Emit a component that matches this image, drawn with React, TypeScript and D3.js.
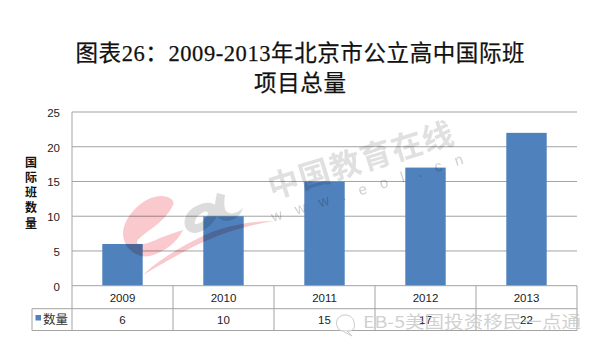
import React from "react";
import * as d3 from "d3";

const years = ["2009", "2010", "2011", "2012", "2013"];
const counts = [6, 10, 15, 17, 22];
const yTicks = [0, 5, 10, 15, 20, 25];
const seriesName = "数量";
const titleLines = ["图表26：2009-2013年北京市公立高中国际班", "项目总量"];
const yTitle = ["国", "际", "班", "数", "量"];

const W = 600, H = 353;
const left = 72, right = 577, top = 112, bottom = 285.7, row1 = 308.7, row2 = 330.5, legendLeft = 32;
const x = d3.scaleBand<string>().domain(years).range([left, right]).paddingInner(0.6).paddingOuter(0.3);
const band = d3.scaleBand<string>().domain(years).range([left, right]);
const y = d3.scaleLinear().domain([0, 25]).range([bottom, top]);
const cjk = "'Noto Sans CJK SC', sans-serif";
const grid = "#a3a3a3";
const blue = "#4f81bd";
const pink = "#f9c9cd";
const gray = "#dcdcdc";

export default function App() {
  return (
    <svg width={W} height={H} viewBox={`0 0 ${W} ${H}`} style={{ position: "absolute", left: 0, top: 0, background: "#fff" }}>
      {titleLines.map((t, i) => (
        <text key={t} x={300} y={i === 0 ? 61 : 91} textAnchor="middle" fontSize={22.5} fontWeight={400}
          stroke="#111" strokeWidth={0.25} textLength={i === 0 ? 449 : 92}
          fontFamily={"'Liberation Serif', 'Noto Sans CJK SC', serif"} fill="#111">{t}</text>
      ))}
      {yTicks.map((t) => (
        <g key={t}>
          {t > 0 && <line x1={left} x2={right} y1={y(t)} y2={y(t)} stroke={grid} strokeWidth={1} />}
          <text x={60} y={y(t) + 5} textAnchor="end" fontSize={11.5} fontFamily="'Liberation Sans', sans-serif" fill="#222">{t}</text>
        </g>
      ))}
      <line x1={left} x2={left} y1={top} y2={row2} stroke={grid} />
      {yTitle.map((c, i) => (
        <text key={i} x={31} y={166.5 + i * 15.3} textAnchor="middle" fontSize={12} fontWeight={700} fontFamily={cjk} fill="#111">{c}</text>
      ))}
      {counts.map((v, i) => (
        <rect key={years[i]} x={x(years[i])} width={x.bandwidth()} y={y(v)} height={bottom - y(v)} fill={blue} />
      ))}
      {/* eol watermark, printed over bars and gridlines */}
      <g style={{ mixBlendMode: "multiply" }}>
        <path d="M123 233C124 216 143 197 160 196C172 196 176 202 172 207C167 217 156 226 147 232C142 236 136 240 137 243C140 246 150 243 160 238C168 235 176 232 183 230C178 241 165 252 150 256C140 258 130 252 126 245C124 241 123 237 123 233Z" fill={pink} />
        <path d="M143 275C155 263 177 248 205 235C225 226 250 221 274 221C255 224 235 229 215 237C190 247 165 262 143 275Z" fill={pink} />
        <path fillRule="evenodd" fill={gray} d="M185 219C187 210 197 204 206 203C213 202 219 206 218 213C216 222 205 232 195 233C187 233 183 226 185 219ZM195 224C200 225 207 218 208 214C208 211 205 211 202 213C198 215 194 220 195 224Z" />
        <path fill={gray} d="M217 193L225 195C224 202 224 208 226 211C230 215 237 214 243 208C241 216 233 221 226 221C219 221 215 214 215 207C215 202 216 197 217 193Z" />
        <text transform="translate(272 199) rotate(-17)" fill="#e0e0e0" fontFamily={cjk} fontSize={31} fontWeight={700} textLength={192}>中国教育在线</text>
        <text transform="translate(273 222) rotate(-17)" fill="#d0d0d0" fontFamily="'Liberation Sans', sans-serif" fontSize={15} textLength={200}>www.eol.cn</text>
      </g>
      {/* data table */}
      <line x1={left} x2={right} y1={bottom} y2={bottom} stroke={grid} />
      <line x1={legendLeft} x2={right} y1={row1} y2={row1} stroke={grid} />
      <line x1={legendLeft} x2={right} y1={row2} y2={row2} stroke={grid} />
      <line x1={legendLeft} x2={legendLeft} y1={row1} y2={row2} stroke={grid} />
      {years.map((yr, i) => (
        <g key={yr}>
          <line x1={band(yr)! + band.bandwidth()} x2={band(yr)! + band.bandwidth()} y1={bottom} y2={row2} stroke={grid} />
          <text x={band(yr)! + band.bandwidth() / 2} y={302} textAnchor="middle" fontSize={11.5} fontFamily="'Liberation Sans', sans-serif" fill="#222">{yr}</text>
          <text x={band(yr)! + band.bandwidth() / 2} y={324} textAnchor="middle" fontSize={11.5} fontFamily="'Liberation Sans', sans-serif" fill="#222">{counts[i]}</text>
        </g>
      ))}
      <rect x={35.5} y={315} width={5.5} height={5.5} fill={blue} />
      <text x={43} y={323.5} fontSize={12.5} fontFamily={cjk} fill="#333">{seriesName}</text>
      {/* WeChat-style overlay */}
      <g fill="#fff" fillOpacity={0.7} stroke="#c9c9c9" strokeWidth={1}>
        <path d="M337 326C335 320 339 315 345 315C351 315 354 319 354 323C356 328 352 332 347 331L352 336L343 331C340 331 338 329 337 326Z" />
      </g>
      <text x={363} y={328} fontSize={16.5} fontFamily={cjk} fill="#c8c8c8" fillOpacity={0.85} textLength={218} lengthAdjust="spacingAndGlyphs">EB-5美国投资移民一点通</text>
    </svg>
  );
}
